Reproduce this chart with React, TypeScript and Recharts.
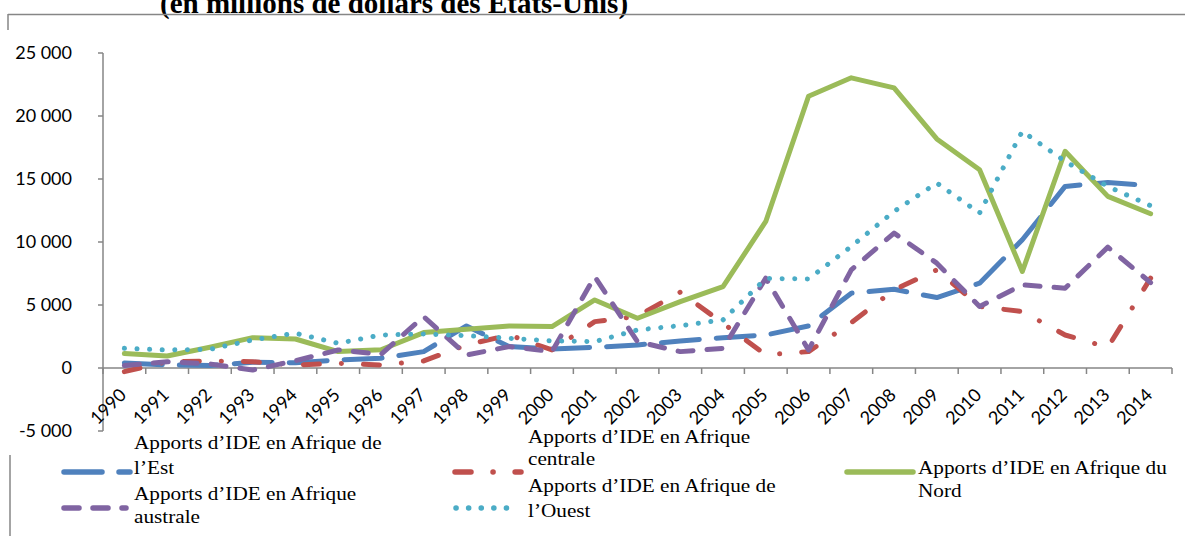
import React from 'react';
import { ComposedChart, Line, XAxis, YAxis, ReferenceLine, Legend } from 'recharts';

// Flux d'IDE vers l'Afrique par sous-région, 1990-2014 (millions USD)
const YEARS = [
  '1990', '1991', '1992', '1993', '1994', '1995', '1996', '1997', '1998', '1999',
  '2000', '2001', '2002', '2003', '2004', '2005', '2006', '2007', '2008', '2009',
  '2010', '2011', '2012', '2013', '2014',
];

const EST = [
  400, 240, 200, 450, 420, 640, 770, 1300, 3340, 1700,
  1510, 1640, 1830, 2150, 2410, 2620, 3340, 5940, 6250, 5590,
  6730, 10180, 14410, 14730, 14470,
];
const CENTRALE = [
  -290, 500, 560, 500, 240, 370, 240, 560, 1830, 2620,
  1430, 3680, 4100, 6020, 3550, 1050, 1300, 3600, 6200, 7790,
  4880, 4480, 2620, 1640, 7130,
];
const NORD = [
  1150, 950, 1650, 2410, 2300, 1300, 1450, 2810, 3070, 3340,
  3290, 5400, 3950, 5270, 6460, 11630, 21570, 23030, 22230, 18180,
  15740, 7660, 17200, 13620, 12240,
];
const AUSTRALE = [
  200, 500, 320, -160, 580, 1430, 1080, 4080, 1030, 1700,
  1300, 7260, 2090, 1300, 1560, 7130, 1430, 7790, 10710, 8320,
  4880, 6600, 6330, 9590, 6780,
];
const OUEST = [
  1560, 1430, 1480, 2230, 2760, 1960, 2620, 2700, 2570, 2360,
  2150, 2090, 3020, 3360, 3820, 7100, 7070, 9650, 12430, 14680,
  12300, 18790, 16400, 14410, 12880,
];

const Y_TICKS = [-5000, 0, 5000, 10000, 15000, 20000, 25000];

const SERIES = [
  { key: 'est', name: 'Apports d’IDE en Afrique de l’Est', color: '#4F81BD', dash: '38 17', values: EST },
  { key: 'centrale', name: 'Apports d’IDE en Afrique centrale', color: '#C0504D', dash: '16 22 0.1 22', values: CENTRALE },
  { key: 'nord', name: 'Apports d’IDE en Afrique du Nord', color: '#9BBB59', dash: undefined, values: NORD },
  { key: 'australe', name: 'Apports d’IDE en Afrique australe', color: '#8064A2', dash: '15 14', values: AUSTRALE },
  { key: 'ouest', name: 'Apports d’IDE en Afrique de l’Ouest', color: '#4BACC6', dash: '0.1 12.5', values: OUEST },
];

const data = YEARS.map((year, i) => {
  const row: Record<string, any> = { year };
  SERIES.forEach((s) => { row[s.key] = s.values[i]; });
  return row;
});

// layout
const W = 1185;
const H = 536;
const PLOT_LEFT = 103;
const PLOT_RIGHT = 1172;
const PLOT_TOP = 53;
const PLOT_BOTTOM = 431;
const Y_MIN = -5000;
const Y_MAX = 25000;
const Y_AXIS_W = 95;
const X_AXIS_H = 30;
const Y_ZERO = PLOT_TOP + ((Y_MAX - 0) / (Y_MAX - Y_MIN)) * (PLOT_BOTTOM - PLOT_TOP);
const BAND = (PLOT_RIGHT - PLOT_LEFT) / YEARS.length;
const AXIS = '#868686';
const SERIF = '"Liberation Serif", "Times New Roman", serif';
const SANS = 'Lato, "Liberation Sans", sans-serif';
const STRETCH = 1.18;

const LEGEND_TOP = 420;
const LEGEND_LAYOUT: Record<string, { x1: number; x2: number; y: number; tx: number; lines: string[]; ty: number[] }> = {
  est: { x1: 64, x2: 130, y: 472, tx: 134, lines: ['Apports d’IDE en Afrique de', 'l’Est'], ty: [449, 474] },
  centrale: { x1: 455, x2: 521, y: 472, tx: 528, lines: ['Apports d’IDE en Afrique', 'centrale'], ty: [443, 465] },
  nord: { x1: 847, x2: 913, y: 472, tx: 918, lines: ['Apports d’IDE en Afrique du', 'Nord'], ty: [474, 497] },
  australe: { x1: 64, x2: 126, y: 508, tx: 134, lines: ['Apports d’IDE en Afrique', 'australe'], ty: [500, 523] },
  ouest: { x1: 456, x2: 518, y: 508, tx: 528, lines: ['Apports d’IDE en Afrique de', 'l’Ouest'], ty: [492, 517] },
};

const fmt = (v: number) => String(v).replace(/\B(?=(\d{3})+(?!\d))/g, ' ');

const XTick = (props: any) => {
  const { x, index, payload } = props;
  const last = index === YEARS.length - 1;
  const ax = x + 3;
  const ay = Y_ZERO + 28;
  return (
    <g>
      <line x1={x - BAND / 2} x2={x - BAND / 2} y1={Y_ZERO} y2={Y_ZERO + 6} stroke={AXIS} strokeWidth={1.5} />
      {last && <line x1={x + BAND / 2} x2={x + BAND / 2} y1={Y_ZERO} y2={Y_ZERO + 6} stroke={AXIS} strokeWidth={1.5} />}
      <text
        x={ax}
        y={ay}
        transform={`rotate(-45 ${ax} ${ay})`}
        textAnchor="end"
        fontFamily={SANS}
        fontSize={18}
        fill="#000"
      >
        {payload.value}
      </text>
    </g>
  );
};

const renderLegend = () => (
  <svg width={W} height={H - LEGEND_TOP} style={{ display: 'block' }}>
    {SERIES.map((s) => {
      const l = LEGEND_LAYOUT[s.key];
      return (
        <g key={s.key}>
          <line
            x1={l.x1}
            x2={l.x2}
            y1={l.y - LEGEND_TOP}
            y2={l.y - LEGEND_TOP}
            stroke={s.color}
            strokeWidth={5.5}
            strokeLinecap="round"
            strokeDasharray={s.dash}
          />
          {l.lines.map((t, i) => (
            <text
              key={i}
              transform={`translate(${l.tx} ${l.ty[i] - LEGEND_TOP}) scale(${STRETCH} 1)`}
              fontFamily={SERIF}
              fontSize={18}
              fill="#000"
            >
              {t}
            </text>
          ))}
        </g>
      );
    })}
  </svg>
);

export default function App() {
  return (
    <div style={{ position: 'absolute', left: 0, top: 0, width: W, height: H, overflow: 'hidden', background: '#fff' }}>
      <svg width={W} height={H} style={{ position: 'absolute', left: 0, top: 0, pointerEvents: 'none' }}>
        <text x={160} y={13} fontFamily={SERIF} fontWeight="bold" fontSize={29} fill="#000">
          (en millions de dollars des États-Unis)
        </text>
        <line x1={8} x2={W} y1={14.5} y2={14.5} stroke={AXIS} strokeWidth={1.5} />
        <line x1={8} x2={8} y1={14} y2={30} stroke={AXIS} strokeWidth={1.5} />
        <line x1={10} x2={10} y1={455} y2={H} stroke={AXIS} strokeWidth={1.5} />
      </svg>
      <div style={{ position: 'absolute', left: 0, top: 0 }}>
        <ComposedChart
          width={W}
          height={H}
          data={data}
          margin={{
            top: PLOT_TOP,
            right: W - PLOT_RIGHT,
            left: PLOT_LEFT - Y_AXIS_W,
            bottom: H - PLOT_BOTTOM - X_AXIS_H,
          }}
        >
          <XAxis
            dataKey="year"
            interval={0}
            height={X_AXIS_H}
            padding={{ left: BAND / 2, right: BAND / 2 }}
            axisLine={false}
            tickLine={false}
            tick={<XTick />}
          />
          <YAxis
            width={Y_AXIS_W}
            domain={[Y_MIN, Y_MAX]}
            ticks={Y_TICKS}
            tickFormatter={fmt}
            axisLine={{ stroke: AXIS, strokeWidth: 1.5 }}
            tickLine={{ stroke: AXIS, strokeWidth: 1.5 }}
            tickSize={5}
            tickMargin={26}
            tick={{ fontFamily: SANS, fontSize: 18, fill: '#000' }}
          />
          <ReferenceLine y={0} stroke={AXIS} strokeWidth={1.5} />
          {SERIES.map((s) => (
            <Line
              key={s.key}
              type="linear"
              dataKey={s.key}
              name={s.name}
              stroke={s.color}
              strokeWidth={5}
              strokeDasharray={s.dash}
              strokeLinecap="round"
              strokeLinejoin="round"
              dot={false}
              activeDot={false}
              isAnimationActive={false}
            />
          ))}
          <Legend
            layout="horizontal"
            verticalAlign="middle"
            align="center"
            wrapperStyle={{ position: 'absolute', top: LEGEND_TOP, left: 0, width: W, height: H - LEGEND_TOP }}
            content={renderLegend}
          />
        </ComposedChart>
      </div>
    </div>
  );
}
